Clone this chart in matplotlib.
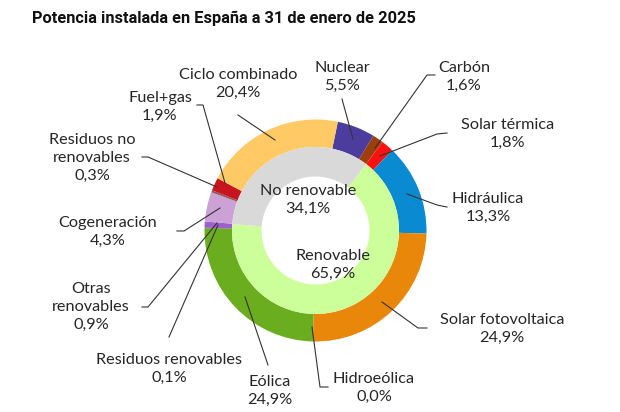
import numpy as np
import matplotlib.pyplot as plt

W, H = 620, 412

# outer ring (clockwise, starting at Nuclear)
sources = ["Nuclear", "Carbón", "Solar térmica", "Hidráulica", "Solar fotovoltaica",
           "Hidroeólica", "Eólica", "Residuos renovables", "Otras renovables",
           "Cogeneración", "Residuos no renovables", "Fuel+gas", "Ciclo combinado"]
shares = [5.5, 1.6, 1.8, 13.3, 24.9, 0.0, 24.9, 0.1, 0.9, 4.3, 0.3, 1.9, 20.4]
label_text = ["Nuclear\n5,5%", "Carbón\n1,6%", "Solar térmica\n1,8%", "Hidráulica\n13,3%",
              "Solar fotovoltaica\n24,9%", "Hidroeólica\n0,0%", "Eólica\n24,9%",
              "Residuos renovables\n0,1%", "Otras\nrenovables\n0,9%", "Cogeneración\n4,3%",
              "Residuos no\nrenovables\n0,3%", "Fuel+gas\n1,9%", "Ciclo combinado\n20,4%"]
colors = ["#4b3c9e", "#9c3f0c", "#ff1010", "#0a8ad0", "#e8870a", "#2e75b6", "#6aae1f",
          "#548235", "#9e5fcf", "#cca1d6", "#8b5a5a", "#c8141e", "#ffc966"]

# inner ring
groups = ["Renovable", "No renovable"]
group_shares = [65.9, 34.1]
group_text = ["Renovable\n65,9%", "No renovable\n34,1%"]
group_colors = ["#ccff99", "#d9d9d9"]

# layout in pixels (y from top)
cx, cy = 315.5, 230.5
r_out, r_mid, r_in = 111, 83.5, 54
start = 90 - 11.6

label_pos = [(342, 77), (464, 77), (508, 134), (488, 208), (502, 329), (374, 388),
             (270, 391), (169, 369), (91, 307), (108, 232), (92, 158), (160, 107),
             (238, 84)]
leaders = [
    [(342, 99), (353, 139)],
    [(435, 75), (427, 75), (375, 148)],
    [(447, 133), (437, 134), (380, 156)],
    [(447, 207), (437, 205), (407, 194)],
    [(427, 328), (418, 328), (382, 302)],
    [(328, 387), (320, 387), (312, 327)],
    [(268, 365), (245, 297)],
    [(169, 337), (218, 225)],
    [(142, 307), (148, 307), (217, 223)],
    [(177, 231), (184, 231), (220, 208)],
    [(142, 157), (148, 157), (217, 187)],
    [(197, 105), (203, 105), (225, 183)],
    [(238, 115), (275, 140)],
]
group_pos = [(333, 265), (308, 200)]

fig = plt.figure(figsize=(W / 100, H / 100), dpi=100)
ax = fig.add_axes([0, 0, 1, 1])

def P(x, y):
    return x, H - y

total = sum(shares)
ax.pie(shares, colors=colors, radius=r_out, center=P(cx, cy), startangle=start,
       counterclock=False, wedgeprops=dict(width=r_out - r_mid, linewidth=0))
inner_start = start - (shares[0] + shares[1]) / total * 360
ax.pie(group_shares, colors=group_colors, radius=r_mid, center=P(cx, cy),
       startangle=inner_start, counterclock=False,
       wedgeprops=dict(width=r_mid - r_in, linewidth=0))

font = ["Lato", "DejaVu Sans"]
txt_col = "#262626"
for t, (x, y) in zip(label_text, label_pos):
    ax.text(*P(x, y), t, ha="center", va="center", fontsize=11.7, family=font,
            color=txt_col, linespacing=1.36)
for t, (x, y) in zip(group_text, group_pos):
    ax.text(*P(x, y), t, ha="center", va="center", fontsize=11.7, family=font,
            color=txt_col, linespacing=1.36)
for pts in leaders:
    xs = [p[0] for p in pts]
    ys = [H - p[1] for p in pts]
    ax.plot(xs, ys, color="#333333", lw=0.8)

fig.text(32 / W, 1 - 18 / H, "Potencia instalada en España a 31 de enero de 2025",
         ha="left", va="center", fontsize=11.8, fontweight="bold",
         family=["Roboto", "DejaVu Sans"], color="#111111")

ax.set_xlim(0, W)
ax.set_ylim(0, H)
ax.set_aspect("equal")
ax.axis("off")
fig.savefig("out.png", dpi=100)
